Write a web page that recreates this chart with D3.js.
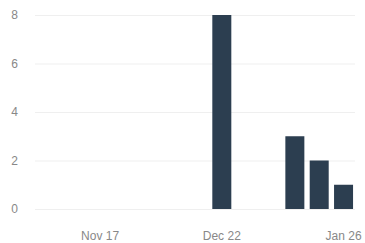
<!DOCTYPE html>
<html>
<head>
<meta charset="utf-8">
<script src="https://cdn.jsdelivr.net/npm/d3@7"></script>
<style>
  body { margin: 0; background: #fff; }
  text { font-family: "Liberation Sans", Arial, sans-serif; }
</style>
</head>
<body>
<div id="chart"></div>
<script>
// --- data ---
var weeks = ["2014-11-03", "2014-11-10", "2014-11-17", "2014-11-24", "2014-12-01",
             "2014-12-08", "2014-12-15", "2014-12-22", "2014-12-29", "2015-01-05",
             "2015-01-12", "2015-01-19", "2015-01-26"];
var counts = [0, 0, 0, 0, 0, 0, 0, 8, 0, 0, 3, 2, 1];
var yTicks = [0, 2, 4, 6, 8];
var xTickDates = ["2014-11-17", "2014-12-22", "2015-01-26"];

var width = 365, height = 243;
var margin = { top: 15, right: 10, bottom: 34, left: 35 };

var parse = d3.utcParse("%Y-%m-%d");
var data = weeks.map(function(w, i) { return { date: parse(w), value: counts[i] }; });

var svg = d3.select("#chart").append("svg")
  .attr("width", width)
  .attr("height", height);

// time axis, roughly Oct 29 .. Jan 29
var x = d3.scaleUtc()
  .domain([new Date(Date.UTC(2014, 9, 29, 7)), new Date(Date.UTC(2015, 0, 29, 7))])
  .range([margin.left, width - margin.right]);

var y = d3.scaleLinear()
  .domain([0, 8])
  .range([height - margin.bottom, margin.top]);

var barW = 19;

// gridlines
svg.append("g").selectAll("line")
  .data(yTicks)
  .join("line")
  .attr("x1", margin.left)
  .attr("x2", width - margin.right)
  .attr("y1", function(d) { return y(d) + 0.5; })
  .attr("y2", function(d) { return y(d) + 0.5; })
  .attr("stroke", "#efefef")
  .attr("stroke-width", 1);

// y labels
svg.append("g").selectAll("text")
  .data(yTicks)
  .join("text")
  .attr("x", 18)
  .attr("y", function(d) { return y(d); })
  .attr("dy", "0.35em")
  .attr("text-anchor", "end")
  .attr("fill", "#888")
  .attr("font-size", 12)
  .text(function(d) { return d; });

// bars
svg.append("g").selectAll("rect")
  .data(data.filter(function(d) { return d.value > 0; }))
  .join("rect")
  .attr("x", function(d) { return x(d.date) - barW / 2; })
  .attr("width", barW)
  .attr("y", function(d) { return y(d.value); })
  .attr("height", function(d) { return y(0) - y(d.value); })
  .attr("fill", "#2c3e50");

// x labels
var fmt = d3.utcFormat("%b %-d");
svg.append("g").selectAll("text")
  .data(xTickDates.map(parse))
  .join("text")
  .attr("x", function(d) { return x(d); })
  .attr("y", 240)
  .attr("text-anchor", "middle")
  .attr("fill", "#888")
  .attr("font-size", 12)
  .text(function(d) { return fmt(d); });
</script>
</body>
</html>
